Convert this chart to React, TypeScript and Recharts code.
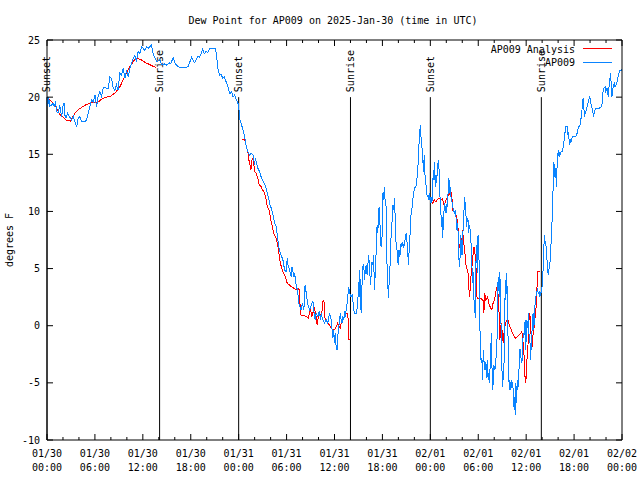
import React from 'react';
import { LineChart, Line, XAxis, YAxis, ReferenceLine } from 'recharts';

const FONT = '"DejaVu Sans Mono", "Liberation Mono", monospace';

const hourTicks = [0, 2, 4, 6, 8, 10, 12, 14, 16, 18, 20, 22, 24, 26, 28, 30, 32, 34, 36, 38, 40, 42, 44, 46, 48, 50, 52, 54, 56, 58, 60, 62, 64, 66, 68, 70, 72];
const dateLabels = ['01/30', '01/30', '01/30', '01/30', '01/31', '01/31', '01/31', '01/31', '02/01', '02/01', '02/01', '02/01', '02/02'];
const timeLabels = ['00:00', '06:00', '12:00', '18:00', '00:00', '06:00', '12:00', '18:00', '00:00', '06:00', '12:00', '18:00', '00:00'];
const dewTicks = [-10, -5, 0, 5, 10, 15, 20, 25];

const sunEvents: { h: number; label: string }[] = [
  { h: 0, label: 'Sunset' },
  { h: 14.1, label: 'Sunrise' },
  { h: 24, label: 'Sunset' },
  { h: 38.0, label: 'Sunrise' },
  { h: 48, label: 'Sunset' },
  { h: 61.9, label: 'Sunrise' },
];

// AP009 observations: [hour since 01/30 00:00 UTC, dew point F]
const observed: [number, number][] = [
  [0, 20.0], [0.1, 19.2], [0.2, 20.0], [0.35, 19.2], [0.58, 19.3], [0.75, 19.5], [0.9, 19.2], [1.05, 19.5], [1.25, 18.7], [1.42, 18.7],
  [1.6, 19.3], [1.83, 18.3], [2.0, 19.2], [2.15, 19.5], [2.25, 18.4], [2.4, 18.2], [2.6, 18.6], [2.8, 18.3], [3.08, 18.0], [3.3, 18.3],
  [3.5, 17.85], [3.71, 17.4], [3.9, 18.15], [4.1, 18.3], [4.33, 17.85], [4.75, 17.85], [4.96, 18.0], [5.17, 18.6], [5.375, 19.17], [5.58, 19.75],
  [5.79, 19.6], [6.0, 20.2], [6.2, 19.17], [6.4, 20.04], [6.6, 20.48], [6.83, 20.04], [7.04, 20.77], [7.25, 20.9], [7.45, 20.77], [7.67, 20.77],
  [7.875, 21.8], [8.08, 21.65], [8.29, 20.77], [8.5, 20.6], [8.7, 21.06], [8.9, 20.6], [9.125, 22.08], [9.33, 21.94], [9.54, 22.52], [9.75, 21.65],
  [9.96, 22.37], [10.17, 21.8], [10.375, 22.52], [10.58, 22.96], [10.79, 23.4], [11.0, 23.69], [11.2, 23.1], [11.4, 23.98], [11.625, 23.83], [11.83, 24.4],
  [12.04, 24.27], [12.25, 24.1], [12.46, 24.4], [12.67, 24.27], [13.08, 24.56], [13.29, 23.83], [13.5, 23.45], [13.8, 23.1], [14.1, 23.3], [14.4, 22.8],
  [14.7, 22.9], [15.0, 22.8], [15.3, 23.0], [15.5, 22.9], [15.8, 23.5], [16.0, 23.0], [16.2, 22.8], [16.6, 22.6], [17.0, 22.6], [17.5, 22.6],
  [17.7, 22.7], [17.9, 23.1], [18.1, 23.5], [18.3, 23.2], [18.5, 23.0], [18.7, 23.3], [18.9, 23.6], [19.1, 23.5], [19.3, 23.8], [19.5, 24.2],
  [19.7, 23.8], [19.9, 24.0], [20.1, 23.9], [20.4, 24.27], [20.8, 24.27], [21.1, 24.27], [21.2, 23.8], [21.4, 22.5], [21.6, 21.9], [21.8, 22.0],
  [22.0, 21.65], [22.2, 21.8], [22.5, 21.2], [22.7, 20.8], [22.9, 20.3], [23.1, 20.5], [23.3, 20.0], [23.5, 20.2], [23.7, 19.8], [23.9, 19.5],
  [24.0, 19.17], [24.17, 18.0], [24.35, 17.6], [24.54, 17.13], [24.75, 16.55], [24.96, 15.67], [25.17, 15.23], [25.375, 14.94], [25.58, 15.09], [25.8, 14.94],
  [26.0, 14.07], [26.08, 14.65], [26.2, 14.36], [26.4, 13.78], [26.6, 13.5], [26.8, 13.05], [27.17, 12.46], [27.33, 12.3], [27.58, 11.6], [27.75, 11.15],
  [27.875, 10.7], [28.08, 10.28], [28.3, 9.7], [28.5, 8.97], [28.7, 8.67], [28.9, 7.5], [29.1, 6.63], [29.3, 6.2], [29.54, 5.76], [29.75, 4.88],
  [29.96, 4.74], [30.08, 5.9], [30.17, 5.32], [30.375, 4.88], [30.58, 4.3], [30.67, 5.17], [30.8, 4.74], [30.9, 4.3], [31.0, 4.59], [31.2, 3.57],
  [31.4, 2.99], [31.5, 1.97], [31.6, 1.82], [31.83, 1.38], [31.96, 1.97], [32.17, 1.38], [32.25, 3.13], [32.33, 3.57], [32.46, 2.84], [32.67, 1.82],
  [32.875, 1.38], [33.17, 1.97], [33.3, 2.1], [33.5, 0.8], [33.58, 0.51], [33.7, 1.09], [33.9, 0.8], [34.1, 1.24], [34.25, 0.51], [34.33, 1.09],
  [34.54, 0.51], [34.75, 0.22], [34.96, 0.51], [35.17, 0.22], [35.375, 1.09], [35.58, 0.51], [35.7, -0.37], [35.8, -1.1], [35.9, -0.37], [36.0, -1.53],
  [36.08, -0.66], [36.2, -1.83], [36.33, -2.12], [36.4, -0.95], [36.54, -0.08], [36.67, 0.8], [36.75, 1.09], [36.83, 0.51], [36.96, 0.22], [37.04, 0.8],
  [37.17, 0.51], [37.25, 1.24], [37.375, 0.8], [37.46, 1.38], [37.58, 1.97], [37.67, 2.55], [37.75, 3.28], [37.875, 3.13], [37.96, 2.7], [38.08, 2.55],
  [38.2, 2.7], [38.3, 2.26], [38.4, 1.38], [38.5, 1.09], [38.7, 1.09], [38.8, 1.38], [38.92, 1.96], [39.0, 3.86], [39.08, 2.54], [39.125, 4.88],
  [39.25, 3.42], [39.33, 1.09], [39.42, 3.13], [39.54, 5.17], [39.67, 5.32], [39.75, 4.0], [39.83, 4.59], [39.92, 5.17], [40.0, 5.32], [40.08, 4.44],
  [40.17, 5.17], [40.25, 6.19], [40.375, 5.46], [40.5, 3.57], [40.58, 4.3], [40.7, 5.6], [40.8, 5.32], [40.9, 6.19], [41.0, 3.13], [41.08, 4.3],
  [41.2, 6.19], [41.33, 8.8], [41.42, 8.08], [41.5, 9.54], [41.58, 10.42], [41.67, 9.54], [41.75, 7.5], [41.83, 6.92], [41.92, 7.21], [42.0, 8.8],
  [42.08, 11.73], [42.17, 11.0], [42.25, 12.17], [42.33, 11.0], [42.46, 10.42], [42.58, 5.17], [42.67, 3.71], [42.75, 2.4], [42.875, 4.3], [43.0, 5.75],
  [43.08, 7.8], [43.17, 8.52], [43.29, 10.56], [43.42, 10.13], [43.5, 11.15], [43.58, 9.84], [43.7, 7.36], [43.83, 6.63], [43.92, 5.6], [44.0, 5.32],
  [44.08, 6.63], [44.17, 6.04], [44.25, 6.34], [44.33, 7.21], [44.42, 6.92], [44.54, 7.21], [44.67, 6.92], [44.75, 7.07], [44.875, 7.8], [44.96, 8.08],
  [45.08, 7.36], [45.17, 6.48], [45.25, 5.32], [45.375, 6.92], [45.5, 8.52], [45.58, 9.69], [45.7, 10.27], [45.79, 11.0], [45.92, 11.59], [46.0, 12.02],
  [46.2, 12.17], [46.29, 12.6], [46.42, 13.48], [46.5, 14.65], [46.625, 16.54], [46.75, 17.56], [46.83, 16.54], [46.92, 15.8], [47.04, 14.94], [47.125, 13.48],
  [47.25, 14.94], [47.33, 13.19], [47.46, 12.31], [47.58, 11.44], [47.67, 11.3], [47.75, 11.15], [47.875, 11.59], [48.0, 10.71], [48.08, 11.29], [48.2, 10.71],
  [48.29, 12.17], [48.375, 13.63], [48.46, 12.75], [48.54, 14.36], [48.625, 12.17], [48.71, 13.19], [48.79, 12.46], [48.875, 13.63], [48.96, 14.21], [49.04, 14.5],
  [49.125, 13.04], [49.21, 11.29], [49.29, 11.0], [49.375, 8.67], [49.46, 9.54], [49.54, 7.65], [49.625, 8.96], [49.71, 9.98], [49.79, 10.71], [49.875, 10.27],
  [49.96, 9.84], [50.04, 10.56], [50.17, 10.42], [50.25, 12.46], [50.33, 12.9], [50.42, 11.58], [50.5, 12.17], [50.58, 11.29], [50.71, 10.85], [50.79, 10.56],
  [50.875, 10.13], [51.0, 9.84], [51.125, 10.13], [51.21, 9.54], [51.29, 8.38], [51.375, 8.96], [51.46, 8.38], [51.54, 6.63], [51.625, 5.17], [51.71, 5.75],
  [51.79, 7.94], [51.875, 7.21], [51.96, 6.19], [52.04, 6.77], [52.125, 9.25], [52.21, 9.98], [52.29, 11.29], [52.375, 10.56], [52.46, 9.69], [52.54, 8.67],
  [52.625, 9.25], [52.71, 9.4], [52.79, 8.09], [52.875, 8.81], [52.96, 8.52], [53.04, 7.79], [53.125, 6.92], [53.21, 5.17], [53.29, 3.71], [53.375, 4.73],
  [53.46, 2.25], [53.54, 1.96], [53.625, 0.65], [53.71, 5.46], [53.79, 7.06], [53.875, 4.59], [53.96, 7.79], [54.04, 7.94], [54.125, 4.59], [54.21, -0.08],
  [54.29, -3.0], [54.375, -2.85], [54.46, -3.0], [54.54, -4.75], [54.625, -2.12], [54.71, -3.0], [54.79, -3.87], [54.875, -3.87], [54.96, -3.14], [55.04, -4.6],
  [55.125, -3.0], [55.21, -4.45], [55.29, -4.16], [55.375, -5.04], [55.46, -3.87], [55.54, -3.29], [55.625, -0.66], [55.71, -3.29], [55.79, -5.62], [55.875, -5.04],
  [55.96, -3.43], [56.04, -3.87], [56.125, -3.72], [56.21, -3.0], [56.29, -2.12], [56.375, -0.81], [56.46, 3.71], [56.54, 4.3], [56.625, 2.54], [56.71, 4.73],
  [56.79, 1.38], [56.875, -0.37], [56.96, -3.58], [57.04, -5.33], [57.125, -4.45], [57.21, -3.58], [57.29, -2.12], [57.375, 4.0], [57.46, 2.25], [57.54, 4.59],
  [57.625, 3.13], [57.71, -0.37], [57.79, -3.0], [57.875, -5.62], [57.96, -4.75], [58.04, -5.62], [58.125, -4.75], [58.21, -5.48], [58.29, -4.9], [58.375, -5.62],
  [58.46, -7.08], [58.54, -6.2], [58.625, -7.81], [58.71, -5.04], [58.79, -6.79], [58.875, -4.75], [58.96, -5.62], [59.04, -4.45], [59.125, -3.58], [59.21, -2.12],
  [59.29, -2.12], [59.375, -3.0], [59.46, -3.29], [59.54, -2.41], [59.625, -0.66], [59.71, -0.96], [59.79, -0.37], [59.875, 0.5], [59.96, -2.12], [60.04, 0.5],
  [60.125, -0.23], [60.21, 0.21], [60.29, 1.09], [60.375, -1.25], [60.46, -0.96], [60.54, -3.0], [60.625, -1.83], [60.71, -0.96], [60.79, 0.8], [60.875, 1.09],
  [60.96, -0.37], [61.04, 1.09], [61.125, 1.96], [61.21, 2.54], [61.29, 2.84], [61.42, 3.13], [61.54, 2.84], [61.625, 2.98], [61.71, 2.54], [61.83, 2.84],
  [61.96, 3.13], [62.04, 3.86], [62.125, 5.0], [62.21, 6.78], [62.29, 7.94], [62.375, 7.07], [62.46, 7.36], [62.54, 6.19], [62.625, 5.61], [62.71, 4.73],
  [62.79, 4.44], [62.875, 5.02], [63.0, 5.61], [63.08, 6.78], [63.2, 8.23], [63.29, 10.27], [63.375, 12.02], [63.46, 14.36], [63.54, 13.77], [63.625, 12.9],
  [63.71, 13.77], [63.79, 12.17], [63.875, 14.07], [63.96, 14.94], [64.04, 15.38], [64.125, 14.8], [64.21, 15.23], [64.29, 14.94], [64.375, 15.23], [64.54, 15.23],
  [64.71, 15.96], [64.875, 16.98], [64.96, 17.42], [65.125, 17.42], [65.21, 16.69], [65.29, 16.98], [65.375, 16.25], [65.46, 15.82], [65.54, 16.25], [65.625, 16.11],
  [65.79, 16.55], [66.2, 16.55], [66.375, 16.84], [66.54, 17.42], [66.71, 17.42], [66.79, 17.86], [66.96, 18.44], [67.04, 19.61], [67.125, 19.9], [67.21, 19.32],
  [67.29, 18.3], [67.46, 18.73], [67.625, 19.17], [67.79, 19.61], [67.96, 20.05], [68.08, 19.46], [68.21, 19.17], [68.375, 18.59], [68.46, 18.3], [68.54, 18.73],
  [68.71, 19.02], [69.125, 19.02], [69.46, 19.17], [69.54, 19.61], [69.625, 20.48], [69.75, 20.77], [69.875, 20.92], [69.96, 20.48], [70.125, 20.77], [70.21, 20.34],
  [70.29, 20.05], [70.375, 20.92], [70.46, 21.21], [70.54, 22.09], [70.625, 21.36], [70.71, 20.05], [70.79, 20.19], [70.875, 20.77], [70.96, 21.07], [71.04, 21.21],
  [71.125, 20.92], [71.29, 21.07], [71.375, 21.36], [71.46, 21.65], [71.54, 21.94], [71.625, 22.09], [71.71, 22.29], [72.0, 22.4],
];

// AP009 Analysis (night periods only)
const analysisNight1: [number, number][] = [
  [0, 20.0], [0.75, 19.5], [1.1, 19.2], [1.6, 18.5], [2.4, 18.0], [2.9, 17.9], [3.5, 18.6], [4.1, 19.0], [4.8, 19.3], [5.4, 19.5],
  [6.3, 19.5], [6.8, 19.8], [7.4, 20.0], [8.0, 20.1], [8.6, 20.4], [9.2, 21.0], [9.6, 21.6], [10.0, 22.2], [10.5, 22.8], [11.1, 23.4],
  [11.7, 23.3], [12.4, 23.0], [13.0, 22.8], [13.6, 22.6],
];
const analysisNight2: [number, number][] = [
  [24.45, 16.3], [24.75, 16.26], [24.96, 15.67], [25.17, 15.09], [25.25, 14.5], [25.375, 14.36], [25.5, 13.63], [25.58, 13.78], [25.67, 14.5], [25.8, 14.65],
  [25.9, 14.07], [26.0, 13.5], [26.2, 13.34], [26.4, 12.9], [26.5, 12.46], [26.6, 12.3], [26.8, 12.17], [27.0, 11.88], [27.25, 11.6], [27.46, 11.0],
  [27.58, 10.42], [27.67, 10.28], [27.875, 9.99], [28.0, 9.26], [28.17, 8.82], [28.4, 8.09], [28.58, 7.8], [28.7, 7.65], [28.83, 7.2], [29.0, 6.63],
  [29.1, 5.9], [29.25, 5.47], [29.33, 5.17], [29.54, 4.74], [29.75, 4.44], [29.96, 4.0], [30.08, 3.72], [30.375, 3.57], [30.58, 3.42], [30.9, 3.28],
  [31.2, 3.13], [31.4, 3.28], [31.6, 3.13], [31.75, 0.95], [32.25, 0.86], [32.46, 0.8], [32.75, 0.65], [32.875, 1.24], [33.0, 1.38], [33.17, 0.8],
  [33.4, 1.38], [33.5, 1.53], [33.7, 0.8], [33.83, 0.07], [33.9, 0.51], [34.1, 1.09], [34.33, 0.95], [34.46, 1.38], [34.54, 2.1], [34.67, 2.26],
  [34.75, 1.38], [34.83, 0.51], [35.17, 0.22], [35.375, 0.07], [35.58, -0.22], [35.8, -0.37], [36.0, -0.37], [36.2, -0.08], [36.4, 0.22], [36.6, -0.08],
  [36.75, -0.22], [36.83, 0.22], [37.04, 0.51], [37.25, 0.8], [37.46, 1.09], [37.67, 1.09], [37.8, -1.24], [37.96, -1.24],
];
const analysisNight3: [number, number][] = [
  [48.08, 10.85], [48.29, 10.71], [48.5, 11.0], [48.7, 10.85], [48.92, 11.06], [49.125, 11.15], [49.33, 11.0], [49.54, 11.15], [49.625, 10.71], [49.75, 10.56],
  [49.875, 10.85], [49.96, 11.0], [50.17, 11.29], [50.29, 11.44], [50.46, 11.58], [50.58, 11.73], [50.7, 11.29], [50.79, 10.13], [51.0, 9.98], [51.125, 9.84],
  [51.29, 9.54], [51.42, 8.96], [51.54, 7.79], [51.625, 6.77], [51.71, 6.92], [51.83, 7.36], [51.96, 7.65], [52.04, 8.38], [52.125, 7.65], [52.21, 7.06],
  [52.29, 6.63], [52.375, 6.04], [52.46, 5.31], [52.54, 5.02], [52.67, 4.88], [52.79, 4.15], [52.875, 2.54], [52.96, 2.98], [53.04, 3.71], [53.125, 4.73],
  [53.21, 5.31], [53.29, 5.31], [53.375, 6.63], [53.46, 6.92], [53.54, 6.63], [53.625, 6.04], [53.71, 5.46], [53.79, 2.54], [53.96, 2.4], [54.125, 2.4],
  [54.33, 2.4], [54.54, 2.25], [54.625, 2.25], [54.71, 1.09], [54.79, 2.84], [54.875, 2.54], [54.96, 2.25], [55.17, 2.54], [55.29, 2.11], [55.375, 1.82],
  [55.58, 1.52], [55.71, 1.38], [55.79, 1.82], [56.0, 2.25], [56.125, 2.54], [56.21, 2.98], [56.29, 3.27], [56.375, 3.13], [56.46, 2.84], [56.54, 2.25],
  [56.625, 0.8], [56.71, -1.25], [56.79, -0.37], [56.875, 0.21], [56.96, -0.23], [57.04, -0.96], [57.125, -1.54], [57.25, -0.37], [57.375, 0.07], [57.54, 0.5],
  [57.71, 0.5], [57.875, 0.07], [58.08, -0.23], [58.29, -0.66], [58.5, -0.96], [58.71, -1.1], [58.92, -0.96], [59.125, -0.81], [59.33, -0.66], [59.46, -0.52],
  [59.54, -0.96], [59.625, -1.54], [59.71, -2.12], [59.79, -3.87], [59.875, -4.6], [59.96, -5.04], [60.04, -3.58], [60.125, -2.7], [60.21, -2.12], [60.29, -0.37],
  [60.375, 0.8], [60.46, 1.09], [60.54, 0.21], [60.625, -0.96], [60.71, -2.12], [60.79, -1.25], [60.875, -0.66], [60.96, -0.37], [61.04, 0.21], [61.125, 0.8],
  [61.21, 1.38], [61.29, 1.96], [61.375, 3.71], [61.46, 4.73], [61.7, 4.73],
];

const toRows = (pts: [number, number][]) => pts.map(([h, v]) => ({ h, v }));

const BottomTick = (props: any) => {
  const { x, y, payload } = props;
  const h = payload.value as number;
  const major = h % 6 === 0;
  const idx = Math.round(h / 6);
  return (
    <g>
      <line x1={x} y1={y} x2={x} y2={y - (major ? 6 : 3)} stroke="#000" strokeWidth={1} />
      {major && (
        <text x={x} y={y + 17} textAnchor="middle" fontFamily={FONT} fontSize={10} fill="#000">
          <tspan x={x}>{dateLabels[idx]}</tspan>
          <tspan x={x} dy={14}>{timeLabels[idx]}</tspan>
        </text>
      )}
    </g>
  );
};

const TopTick = (props: any) => {
  const { x, y, payload } = props;
  const major = (payload.value as number) % 6 === 0;
  return <line x1={x} y1={y} x2={x} y2={y + (major ? 6 : 3)} stroke="#000" strokeWidth={1} />;
};

const LeftTick = (props: any) => {
  const { x, y, payload } = props;
  return (
    <g>
      <line x1={x} y1={y} x2={x + 6} y2={y} stroke="#000" strokeWidth={1} />
      <text x={x - 7} y={y + 3.5} textAnchor="end" fontFamily={FONT} fontSize={10} fill="#000">
        {payload.value}
      </text>
    </g>
  );
};

const RightTick = (props: any) => {
  const { x, y } = props;
  return <line x1={x} y1={y} x2={x - 6} y2={y} stroke="#000" strokeWidth={1} />;
};

const SunLabel = (props: any) => {
  const { viewBox, text } = props;
  const x = viewBox && typeof viewBox.x === 'number' ? viewBox.x : 0;
  const y = viewBox && typeof viewBox.y === 'number' ? viewBox.y - 5 : 0;
  return (
    <text
      x={x}
      y={y}
      transform={`rotate(-90 ${x} ${y})`}
      textAnchor="start"
      dominantBaseline="central"
      fontFamily={FONT}
      fontSize={10}
      fill="#000"
    >
      {text}
    </text>
  );
};

export default function App() {
  return (
    <div style={{ position: 'absolute', left: 0, top: 0, width: 640, height: 480, background: '#fff' }}>
      <LineChart width={640} height={480} margin={{ top: 10, right: 0, bottom: 0, left: 0 }}>
        <XAxis
          dataKey="h"
          type="number"
          domain={[0, 72]}
          ticks={hourTicks}
          interval={0}
          allowDataOverflow
          height={40}
          tickSize={0}
          tickMargin={0}
          tickLine={false}
          axisLine={{ stroke: '#000' }}
          tick={<BottomTick />}
        />
        <XAxis
          xAxisId="top"
          orientation="top"
          dataKey="h"
          type="number"
          domain={[0, 72]}
          ticks={hourTicks}
          interval={0}
          allowDataOverflow
          height={30}
          tickSize={0}
          tickMargin={0}
          tickLine={false}
          axisLine={{ stroke: '#000' }}
          tick={<TopTick />}
        />
        <YAxis
          type="number"
          domain={[-10, 25]}
          ticks={dewTicks}
          interval={0}
          allowDataOverflow
          width={47}
          tickSize={0}
          tickMargin={0}
          tickLine={false}
          axisLine={{ stroke: '#000' }}
          tick={<LeftTick />}
        />
        <YAxis
          yAxisId="right"
          orientation="right"
          type="number"
          domain={[-10, 25]}
          ticks={dewTicks}
          interval={0}
          allowDataOverflow
          width={18}
          tickSize={0}
          tickMargin={0}
          tickLine={false}
          axisLine={{ stroke: '#000' }}
          tick={<RightTick />}
        />
        {sunEvents.map((s, i) => (
          <ReferenceLine
            key={'sun' + i}
            segment={[{ x: s.h, y: 20 }, { x: s.h, y: -10 }]}
            stroke="#000"
            strokeWidth={1}
            label={<SunLabel text={s.label} />}
          />
        ))}
        {[analysisNight1, analysisNight2, analysisNight3].map((seg, i) => (
          <Line
            key={'an' + i}
            data={toRows(seg)}
            dataKey="v"
            type="linear"
            stroke="#ff0000"
            strokeWidth={1}
            shapeRendering="crispEdges"
            dot={false}
            activeDot={false}
            isAnimationActive={false}
          />
        ))}
        <Line
          data={toRows(observed)}
          dataKey="v"
          type="linear"
          stroke="#0a84ff"
          strokeWidth={1}
          shapeRendering="crispEdges"
          dot={false}
          activeDot={false}
          isAnimationActive={false}
        />
      </LineChart>
      <svg width={640} height={480} style={{ position: 'absolute', left: 0, top: 0, pointerEvents: 'none' }}>
        <text x={333} y={23.5} textAnchor="middle" fontFamily={FONT} fontSize={10} fill="#000">
          Dew Point for AP009 on 2025-Jan-30 (time in UTC)
        </text>
        <text x={13} y={240} transform="rotate(-90 13 240)" textAnchor="middle" fontFamily={FONT} fontSize={10} fill="#000">
          degrees F
        </text>
        <text x={575} y={52.5} textAnchor="end" fontFamily={FONT} fontSize={10} fill="#000">AP009 Analysis</text>
        <line x1={583} y1={48.5} x2={612} y2={48.5} stroke="#ff0000" strokeWidth={1} />
        <text x={575} y={66} textAnchor="end" fontFamily={FONT} fontSize={10} fill="#000">AP009</text>
        <line x1={583} y1={62.5} x2={612} y2={62.5} stroke="#0a84ff" strokeWidth={1} />
      </svg>
    </div>
  );
}
